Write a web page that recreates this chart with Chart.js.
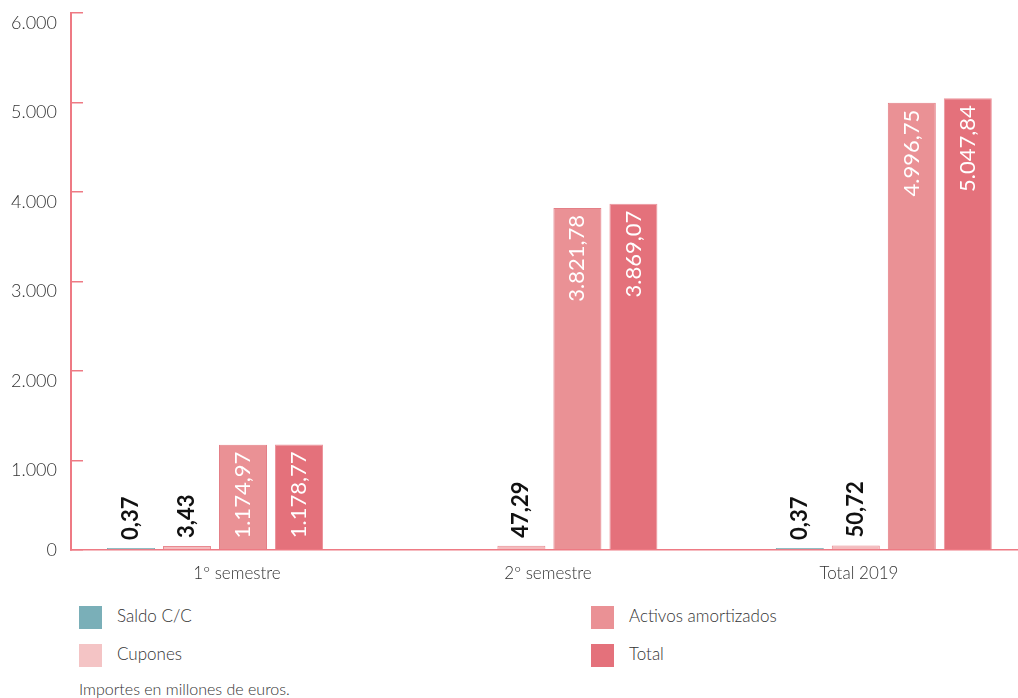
<!DOCTYPE html>
<html lang="es">
<head>
<meta charset="utf-8">
<script src="https://cdn.jsdelivr.net/npm/chart.js@4.4.1/dist/chart.umd.min.js"></script>
<style>
  html, body { margin: 0; padding: 0; background: #ffffff; }
  body { width: 1018px; height: 698px; position: relative; overflow: hidden; font-family: Lato, "Open Sans", sans-serif; color: #333333; }
  #chartBox { position: absolute; left: 0; top: 0; width: 1018px; height: 590px; }
  .leg { position: absolute; display: flex; align-items: center; font-size: 17px; font-weight: 300; color: #333333; }
  .leg .sw { width: 23px; height: 23px; margin-right: 15px; }
  .leg .tx { position: relative; top: -2px; }
  #note { position: absolute; left: 79px; top: 679px; font-size: 16px; font-weight: 300; color: #333333; }
</style>
</head>
<body>
<div id="chartBox"><canvas id="c" width="1018" height="590"></canvas></div>
<div id="legend"></div>
<div id="note">Importes en millones de euros.</div>
<script>
// ---- Data ----
const categories = ['1º semestre', '2º semestre', 'Total 2019'];
const seriesNames = ['Saldo C/C', 'Cupones', 'Activos amortizados', 'Total'];
const saldoCC = [0.37, null, 0.37];
const cupones = [3.43, 47.29, 50.72];
const activosAmortizados = [1174.97, 3821.78, 4996.75];
const totalValues = [1178.77, 3869.07, 5047.84];
const yTickValues = [0, 1000, 2000, 3000, 4000, 5000, 6000];

// ---- Styles ----
const fillColors = ['#7AAFB8', '#F4BCBE', '#EA9195', '#E4717B'];
const legendColors = ['#7AAFB8', '#F4C4C5', '#EA9195', '#E4717B'];
const borderColors = ['#7AAFB8', '#E98A91', '#E47F87', '#EC959D'];
const minLengths = [2, 4, 0, 0];
const axisColor = '#EE7A84';

function fmtThousands(v) {
  return String(v).replace(/\B(?=(\d{3})+(?!\d))/g, '.');
}
function fmtValue(v) {
  const parts = v.toFixed(2).split('.');
  return fmtThousands(parts[0]) + ',' + parts[1];
}

const seriesValues = [saldoCC, cupones, activosAmortizados, totalValues];
const datasets = seriesValues.map((vals, s) => ({
  label: seriesNames[s],
  data: vals.map((v, i) => ({ x: i, y: v })),
  backgroundColor: fillColors[s],
  borderColor: borderColors[s],
  borderWidth: 1,
  borderSkipped: 'bottom',
  minBarLength: minLengths[s],
  xAxisID: 'x',
  yAxisID: 'y',
  categoryPercentage: 0.67,
  barPercentage: 0.857
}));

const valueLabels = {
  id: 'valueLabels',
  afterDatasetsDraw(chart) {
    const ctx = chart.ctx;
    chart.data.datasets.forEach((ds, di) => {
      const meta = chart.getDatasetMeta(di);
      meta.data.forEach((bar, i) => {
        const v = seriesValues[di][i];
        if (v === null || v === undefined) return;
        const inside = v > 500;
        ctx.save();
        ctx.translate(bar.x, inside ? bar.y + 7 : bar.y - 8);
        ctx.rotate(-Math.PI / 2);
        ctx.textBaseline = 'middle';
        ctx.textAlign = inside ? 'right' : 'left';
        ctx.fillStyle = inside ? '#ffffff' : '#111111';
        ctx.font = (inside ? '400 ' : '700 ') + '22px Lato, "Open Sans", sans-serif';
        ctx.fillText(fmtValue(v), 0, 0);
        ctx.restore();
      });
    });
  }
};

const categoryTicks = (scale) => { scale.ticks = categories.map((c, i) => ({ value: i })); };

new Chart(document.getElementById('c'), {
  type: 'bar',
  data: { datasets },
  plugins: [valueLabels],
  options: {
    responsive: false,
    animation: false,
    layout: { padding: { top: 13, right: 0, left: 0, bottom: 0 } },
    plugins: { legend: { display: false }, tooltip: { enabled: false } },
    scales: {
      x: {
        type: 'linear',
        display: false,
        offset: false,
        bounds: 'data',
        min: -0.4306,
        max: 2.4013,
        grid: { offset: false },
        afterBuildTicks: categoryTicks
      },
      x2: {
        type: 'linear',
        position: 'bottom',
        offset: false,
        bounds: 'data',
        min: -0.5338,
        max: 2.5112,
        afterBuildTicks: categoryTicks,
        afterFit: (scale) => { scale.height = 40; scale.paddingLeft = 0; scale.paddingRight = 0; },
        grid: { display: false, drawTicks: false, offset: false },
        border: { display: true, color: axisColor, width: 1.5 },
        ticks: {
          autoSkip: false,
          maxRotation: 0,
          padding: 13,
          color: '#333333',
          font: { family: 'Lato', size: 17, weight: '300' },
          callback: (v) => categories[v] !== undefined ? categories[v] : ''
        }
      },
      y: {
        type: 'linear',
        position: 'left',
        min: 0,
        max: 6000,
        afterBuildTicks: (scale) => { scale.ticks = yTickValues.map(v => ({ value: v })); },
        afterFit: (scale) => { scale.width = 71; scale.paddingTop = 0; scale.paddingBottom = 0; },
        border: { display: true, color: axisColor, width: 2 },
        grid: { drawOnChartArea: false, drawTicks: true, tickLength: -12, color: axisColor, lineWidth: 1.5 },
        ticks: {
          padding: 26,
          color: '#333333',
          font: { family: 'Lato', size: 18, weight: '300', lineHeight: 1.1 },
          callback: (v) => v === 0 ? '0' : ['', fmtThousands(v)]
        }
      }
    }
  }
});

// ---- Legend (two columns) ----
const legendPos = [
  { left: 79, top: 606 },
  { left: 79, top: 644 },
  { left: 591, top: 606 },
  { left: 591, top: 644 }
];
const legendEl = document.getElementById('legend');
seriesNames.forEach((name, s) => {
  const d = document.createElement('div');
  d.className = 'leg';
  d.style.left = legendPos[s].left + 'px';
  d.style.top = legendPos[s].top + 'px';
  const sw = document.createElement('span');
  sw.className = 'sw';
  sw.style.background = legendColors[s];
  const t = document.createElement('span');
  t.className = 'tx';
  t.textContent = name;
  d.appendChild(sw);
  d.appendChild(t);
  legendEl.appendChild(d);
});
</script>
</body>
</html>
